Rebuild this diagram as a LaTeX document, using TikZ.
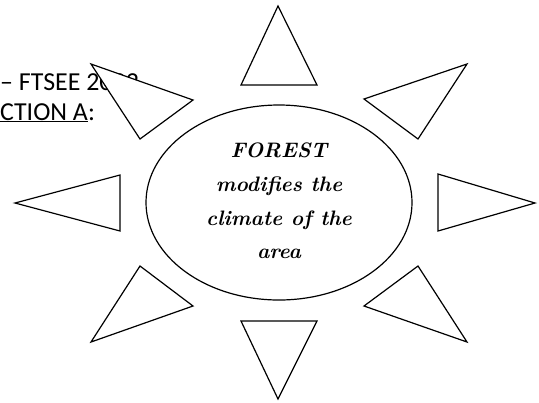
\documentclass[tikz,border=0pt]{standalone}
\usepackage{fontspec}
\newfontfamily\calibri{Carlito}
\begin{document}
\begin{tikzpicture}[x=1bp,y=-1bp,
  ray/.style={draw=black,line width=1.2bp,fill=white,line join=miter},
  hdr/.style={font=\calibri\fontsize{26}{30}\selectfont,anchor=base west,inner sep=0pt},
  captext/.style={font=\fontsize{21}{25}\selectfont\bfseries\itshape,anchor=base,inner sep=0pt}]
\useasboundingbox (0,0) rectangle (539,402);
% header text (partly covered by a ray)
\node[hdr] (h1) at (0,90) {– FTSEE 2022};
\node[hdr] (h2) at (0,120) {\underline{CTION A}:};
% rays
\draw[ray] (241,85) -- (317,85) -- (278,6) -- cycle;
\draw[ray] (91,64) -- (193,100) -- (140,139) -- cycle;
\draw[ray] (467,64) -- (364,99) -- (418,139) -- cycle;
\draw[ray] (120,175) -- (120,231) -- (15,203) -- cycle;
\draw[ray] (438,174) -- (438,231) -- (535,203) -- cycle;
\draw[ray] (140,266) -- (193,306) -- (91,342) -- cycle;
\draw[ray] (418,266) -- (364,306) -- (467,342) -- cycle;
\draw[ray] (241,321) -- (317,321) -- (278,399) -- cycle;
% centre
\draw[line width=1.2bp] (279,202.5) ellipse [x radius=133, y radius=97.5];
\node[captext] (t1) at (279,157) {FOREST};
\node[captext] (t2) at (279,191) {modifies the};
\node[captext] (t3) at (279,225) {climate of the};
\node[captext] (t4) at (279,258) {area};
\end{tikzpicture}
\end{document}
